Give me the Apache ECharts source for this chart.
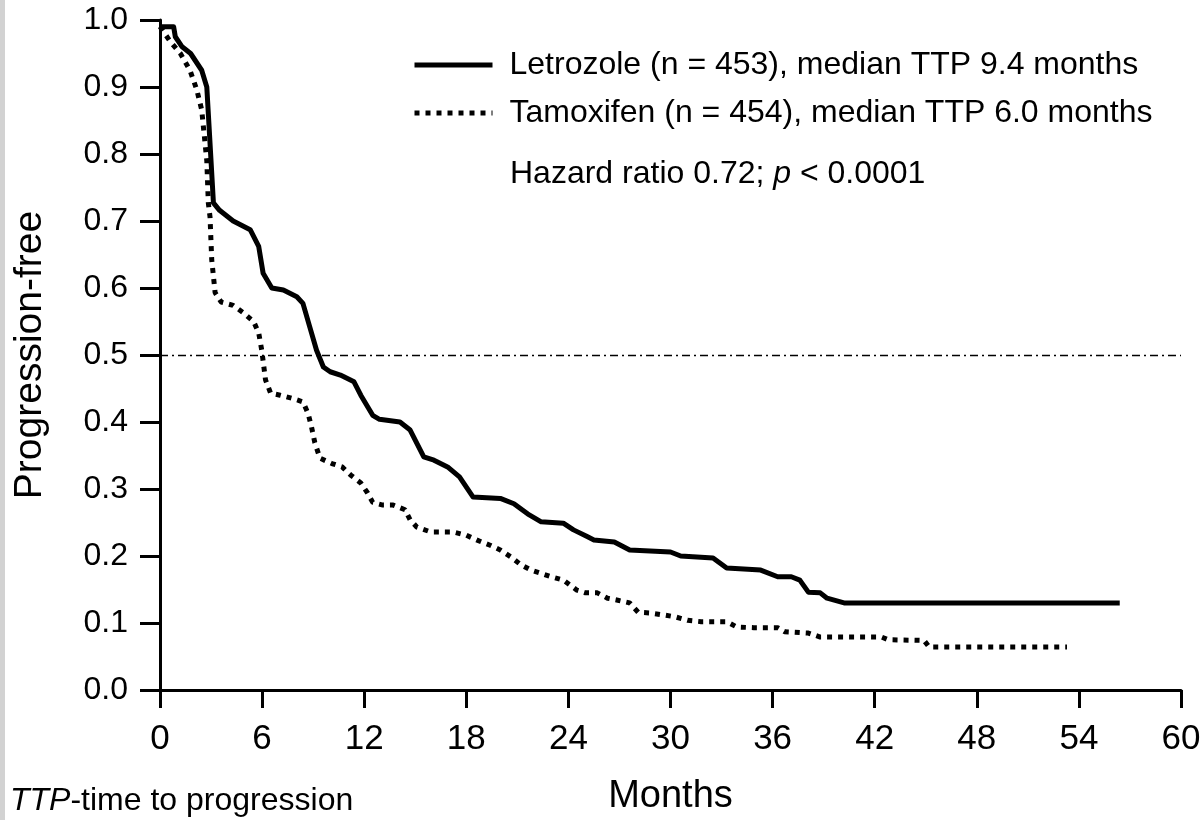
<!DOCTYPE html>
<html>
<head>
<meta charset="utf-8">
<script src="https://cdn.jsdelivr.net/npm/echarts@6/dist/echarts.min.js"></script>
<style>
html,body{margin:0;padding:0;background:#fff;}
#c{width:1200px;height:820px;}
</style>
</head>
<body>
<div id="c"></div>
<script>
// ---- data ----
const xTicks = [0, 6, 12, 18, 24, 30, 36, 42, 48, 54, 60];
const yTicks = [0.0, 0.1, 0.2, 0.3, 0.4, 0.5, 0.6, 0.7, 0.8, 0.9, 1.0];
const seriesNames = [
  'Letrozole (n = 453), median TTP 9.4 months',
  'Tamoxifen (n = 454), median TTP 6.0 months'
];
const letrozoleMonths = [0, 0.8, 0.9, 1.3, 1.8, 2.45, 2.75, 2.94, 3.14, 3.5, 4.3, 5.3, 5.8, 6.06, 6.57, 7.25, 8.04, 8.4, 8.8, 9.2, 9.6, 10.0, 10.6, 11.4, 11.8, 12.5, 12.9, 14.1, 14.7, 15.5, 16.1, 16.9, 17.6, 18.4, 20.0, 20.8, 21.6, 22.4, 23.7, 24.3, 25.1, 25.5, 26.7, 27.6, 30.0, 30.6, 32.5, 33.3, 35.3, 36.3, 37.1, 37.6, 38.1, 38.8, 39.2, 40.2, 56.4];
const letrozoleFree   = [0.99, 0.99, 0.975, 0.96, 0.95, 0.925, 0.90, 0.816, 0.727, 0.716, 0.70, 0.687, 0.662, 0.622, 0.60, 0.597, 0.587, 0.577, 0.542, 0.507, 0.482, 0.475, 0.47, 0.46, 0.44, 0.41, 0.404, 0.40, 0.388, 0.348, 0.343, 0.333, 0.318, 0.288, 0.286, 0.278, 0.263, 0.251, 0.249, 0.239, 0.229, 0.224, 0.221, 0.209, 0.206, 0.20, 0.197, 0.182, 0.179, 0.169, 0.169, 0.164, 0.146, 0.145, 0.137, 0.13, 0.13];
const tamoxifenMonths = [0, 0.6, 1.2, 1.76, 2.16, 2.45, 2.75, 2.84, 2.94, 3.04, 3.24, 3.6, 4.3, 4.9, 5.5, 5.8, 5.98, 6.2, 6.5, 7.06, 7.8, 8.4, 8.7, 8.9, 9.1, 9.4, 10.1, 10.7, 11.2, 11.8, 12.2, 12.5, 13.1, 13.7, 14.4, 14.7, 15.1, 15.9, 17.2, 18.0, 18.6, 19.4, 20.0, 20.6, 21.2, 21.8, 22.4, 23.0, 23.7, 24.5, 25.0, 25.7, 26.3, 26.9, 27.6, 28.1, 28.8, 29.6, 30.3, 31.0, 31.8, 33.3, 33.9, 34.9, 36.3, 36.7, 38.1, 38.8, 41.6, 42.4, 42.8, 44.9, 45.2, 53.3];
const tamoxifenFree   = [0.99, 0.968, 0.95, 0.925, 0.896, 0.866, 0.79, 0.727, 0.706, 0.642, 0.593, 0.579, 0.574, 0.563, 0.55, 0.533, 0.507, 0.463, 0.443, 0.44, 0.435, 0.43, 0.413, 0.393, 0.369, 0.346, 0.338, 0.333, 0.321, 0.309, 0.294, 0.28, 0.276, 0.276, 0.269, 0.254, 0.243, 0.236, 0.236, 0.231, 0.224, 0.216, 0.209, 0.199, 0.187, 0.179, 0.174, 0.169, 0.164, 0.149, 0.145, 0.145, 0.137, 0.134, 0.13, 0.116, 0.115, 0.112, 0.109, 0.104, 0.102, 0.102, 0.094, 0.093, 0.093, 0.087, 0.085, 0.079, 0.079, 0.079, 0.075, 0.074, 0.064, 0.064];
const medianLevel = 0.5;
// --------------------------------------

const pairs = (xs, ys) => xs.map((x, i) => [x, ys[i]]);
const FONT = '"Liberation Sans", Arial, Helvetica, sans-serif';

const chart = echarts.init(document.getElementById('c'), null, {renderer: 'canvas'});
chart.setOption({
  backgroundColor: '#ffffff',
  animation: false,
  textStyle: {fontFamily: FONT, color: '#000'},
  grid: {left: 160, right: 19, top: 20, bottom: 130, containLabel: false, outerBoundsMode: 'none'},
  xAxis: {
    type: 'value',
    min: xTicks[0], max: xTicks[xTicks.length - 1], interval: 6,
    name: 'Months', nameLocation: 'middle', nameGap: 88,
    nameTextStyle: {fontSize: 38, fontFamily: FONT, color: '#000'},
    axisLine: {show: true, onZero: false, lineStyle: {color: '#000', width: 3}},
    axisTick: {show: true, inside: false, length: 18, lineStyle: {color: '#000', width: 3}},
    axisLabel: {fontSize: 35, color: '#000', margin: 32, fontFamily: FONT},
    splitLine: {show: false}
  },
  yAxis: {
    type: 'value',
    min: yTicks[0], max: yTicks[yTicks.length - 1], interval: 0.1,
    name: 'Progression-free', nameLocation: 'middle', nameGap: 110, nameRotate: 90,
    nameTextStyle: {fontSize: 39, fontFamily: FONT, color: '#000'},
    axisLine: {show: true, onZero: false, lineStyle: {color: '#000', width: 3}},
    axisTick: {show: true, inside: false, length: 20, lineStyle: {color: '#000', width: 3}},
    axisLabel: {fontSize: 32, color: '#000', margin: 32, fontFamily: FONT,
      formatter: v => v.toFixed(1)},
    splitLine: {show: false}
  },
  legend: {
    orient: 'vertical', left: 407, top: 43,
    itemWidth: 78, itemHeight: 14, itemGap: 14,
    data: seriesNames,
    itemStyle: {opacity: 0},
    lineStyle: {width: 5, color: '#000'},
    textStyle: {fontSize: 32, color: '#000', fontFamily: FONT, padding: [0, 0, 0, 12], lineHeight: 34}
  },
  title: [
    {
      left: 505, top: 153,
      text: '{a|Hazard ratio 0.72; }{i|p}{a| < 0.0001}',
      textStyle: {fontWeight: 'normal', rich: {
        a: {fontSize: 32, fontFamily: FONT, color: '#000', fontWeight: 'normal'},
        i: {fontSize: 32, fontFamily: FONT, color: '#000', fontStyle: 'italic', fontWeight: 'normal'}
      }}
    },
    {
      left: 5, top: 780,
      text: '{i|TTP}{a|-time to progression}',
      textStyle: {fontWeight: 'normal', rich: {
        a: {fontSize: 32, fontFamily: FONT, color: '#000', fontWeight: 'normal'},
        i: {fontSize: 32, fontFamily: FONT, color: '#000', fontStyle: 'italic', fontWeight: 'normal'}
      }}
    }
  ],
  graphic: [
    {type: 'rect', left: 0, top: 0, shape: {width: 5, height: 820}, style: {fill: '#d2d2d2'}, silent: true}
  ],
  series: [
    {
      name: seriesNames[0], type: 'line', showSymbol: false, symbol: 'none',
      data: pairs(letrozoleMonths, letrozoleFree),
      lineStyle: {color: '#000', width: 5, type: 'solid', join: 'round'},
      itemStyle: {color: '#000'},
      z: 3,
      markLine: {
        silent: true, symbol: ['none', 'none'], label: {show: false},
        lineStyle: {color: '#000', width: 1.4, type: [8, 4, 2, 4]},
        data: [{yAxis: medianLevel}]
      }
    },
    {
      name: seriesNames[1], type: 'line', showSymbol: false, symbol: 'none',
      data: pairs(tamoxifenMonths, tamoxifenFree),
      lineStyle: {color: '#000', width: 5, type: [5, 6], cap: 'butt'},
      itemStyle: {color: '#000'},
      z: 2
    }
  ]
});
</script>
</body>
</html>
